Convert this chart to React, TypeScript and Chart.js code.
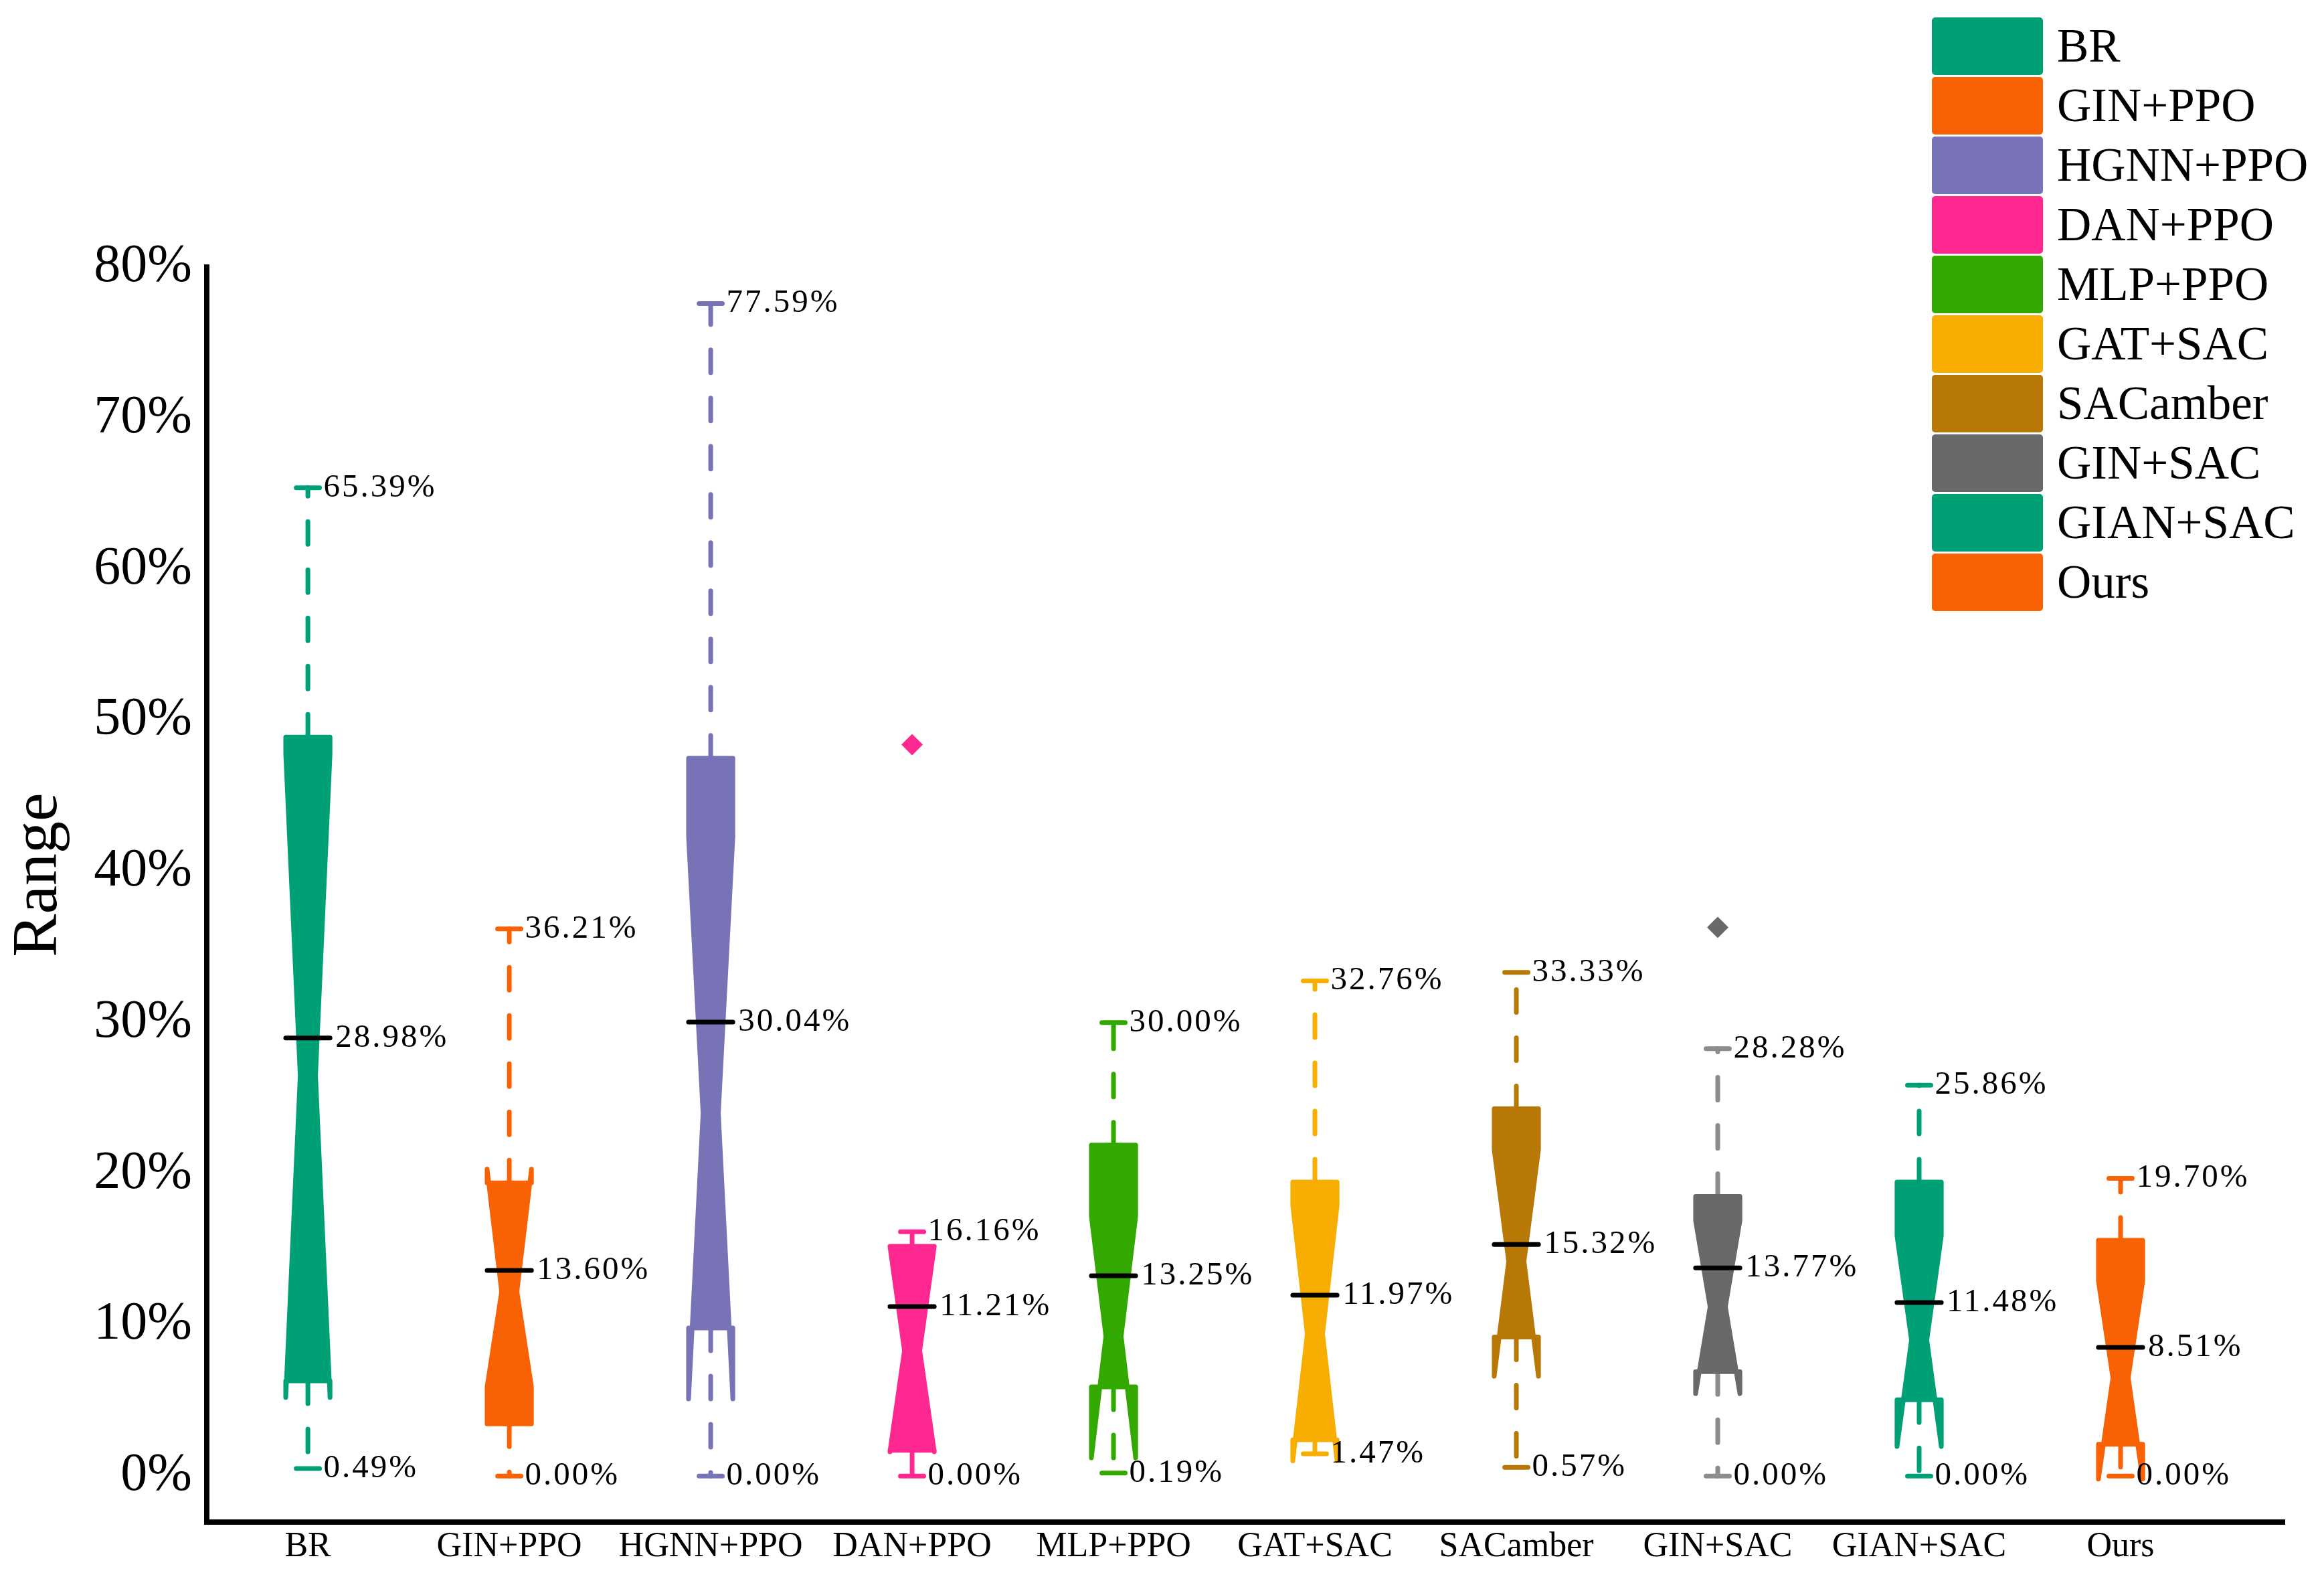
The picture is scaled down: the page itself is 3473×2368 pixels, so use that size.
import { useEffect, useRef } from "react";
import { Chart, registerables } from "chart.js";

Chart.register(...registerables);

const W = 3473;
const H = 2368;
const FONT = "'Liberation Serif', 'Times New Roman', serif";

// data
const CATEGORIES = ["BR", "GIN+PPO", "HGNN+PPO", "DAN+PPO", "MLP+PPO", "GAT+SAC", "SACamber", "GIN+SAC", "GIAN+SAC", "Ours"];
const WHISKER_MAX = [65.39, 36.21, 77.59, 16.16, 30.0, 32.76, 33.33, 28.28, 25.86, 19.7];
const WHISKER_MIN = [0.49, 0.0, 0.0, 0.0, 0.19, 1.47, 0.57, 0.0, 0.0, 0.0];
const MEDIANS = [28.98, 13.6, 30.04, 11.21, 13.25, 11.97, 15.32, 13.77, 11.48, 8.51];
const Q3 = [48.9, 19.4, 47.5, 15.2, 21.9, 19.45, 24.3, 18.5, 19.45, 15.6];
const Q1 = [6.3, 3.45, 9.8, 1.7, 5.9, 2.4, 9.2, 6.9, 5.05, 2.1];
const NOTCH_HIGH = [47.8, 20.3, 42.3, 15.2, 17.2, 17.9, 21.6, 16.9, 15.9, 12.9];
const NOTCH_CENTER = [26.5, 12.2, 24.0, 8.3, 9.25, 9.4, 14.2, 11.2, 9.0, 6.5];
const NOTCH_LOW = [5.2, 5.9, 5.1, 1.6, 1.2, 1.0, 6.6, 5.45, 1.95, -0.2];
const OUTLIER_INDEX = [3, 7];
const OUTLIER_VALUES = [48.4, 36.3];
const Y_TICKS = [0, 10, 20, 30, 40, 50, 60, 70, 80];

const COLORS = ["#00a077", "#f86204", "#7873b6", "#fe2890", "#33a800", "#f8ae00", "#b77806", "#696969", "#00a077", "#f86204"];
const WHISKER_COLORS = ["#00a077", "#f86204", "#7873b6", "#fe2890", "#33a800", "#f8ae00", "#b77806", "#8c8c8c", "#00a077", "#f86204"];

// widths in x-axis units
const BOX_HALF = 0.11;
const NOTCH_HALF = 0.038;
const CAP_HALF = 0.058;

const fmt = (v: number) => v.toFixed(2) + "%";

const notchPlugin = {
  id: "notchBoxes",
  afterDatasetsDraw(chart: any) {
    const { ctx } = chart;
    const xs = chart.scales.x;
    const ys = chart.scales.y;
    const py = (v: number) => ys.getPixelForValue(v);
    ctx.save();
    CATEGORIES.forEach((_, i) => {
      const cx = xs.getPixelForValue(i);
      const L = xs.getPixelForValue(i - BOX_HALF);
      const R = xs.getPixelForValue(i + BOX_HALF);
      const nL = xs.getPixelForValue(i - NOTCH_HALF);
      const nR = xs.getPixelForValue(i + NOTCH_HALF);
      const cL = xs.getPixelForValue(i - CAP_HALF);
      const cR = xs.getPixelForValue(i + CAP_HALF);

      // whiskers
      ctx.strokeStyle = WHISKER_COLORS[i];
      ctx.lineWidth = 7;
      ctx.lineCap = "round";
      ctx.setLineDash([34, 38]);
      ctx.beginPath();
      ctx.moveTo(cx, py(Q3[i]));
      ctx.lineTo(cx, py(WHISKER_MAX[i]));
      ctx.stroke();
      ctx.beginPath();
      ctx.moveTo(cx, py(Q1[i]));
      ctx.lineTo(cx, py(WHISKER_MIN[i]));
      ctx.stroke();
      ctx.setLineDash([]);
      ctx.beginPath();
      ctx.moveTo(cL, py(WHISKER_MAX[i]));
      ctx.lineTo(cR, py(WHISKER_MAX[i]));
      ctx.moveTo(cL, py(WHISKER_MIN[i]));
      ctx.lineTo(cR, py(WHISKER_MIN[i]));
      ctx.stroke();

      // notched box
      ctx.fillStyle = COLORS[i];
      ctx.strokeStyle = COLORS[i];
      ctx.lineWidth = 7;
      ctx.lineJoin = "round";
      ctx.beginPath();
      ctx.moveTo(L, py(Q3[i]));
      ctx.lineTo(R, py(Q3[i]));
      ctx.lineTo(R, py(NOTCH_HIGH[i]));
      ctx.lineTo(nR, py(NOTCH_CENTER[i]));
      ctx.lineTo(R, py(NOTCH_LOW[i]));
      ctx.lineTo(R, py(Q1[i]));
      ctx.lineTo(L, py(Q1[i]));
      ctx.lineTo(L, py(NOTCH_LOW[i]));
      ctx.lineTo(nL, py(NOTCH_CENTER[i]));
      ctx.lineTo(L, py(NOTCH_HIGH[i]));
      ctx.closePath();
      ctx.fill();
      ctx.stroke();

      // median
      ctx.strokeStyle = "#000";
      ctx.lineWidth = 7;
      ctx.beginPath();
      ctx.moveTo(L, py(MEDIANS[i]));
      ctx.lineTo(R, py(MEDIANS[i]));
      ctx.stroke();

      // value labels
      ctx.fillStyle = "#000";
      ctx.font = `49px ${FONT}`;
      ctx.letterSpacing = "3px";
      ctx.textAlign = "left";
      ctx.textBaseline = "middle";
      ctx.fillText(fmt(WHISKER_MAX[i]), cR + 6, py(WHISKER_MAX[i]));
      ctx.fillText(fmt(WHISKER_MIN[i]), cR + 6, py(WHISKER_MIN[i]));
      ctx.fillText(fmt(MEDIANS[i]), R + 8, py(MEDIANS[i]));
      ctx.letterSpacing = "0px";
    });
    ctx.restore();
  },
  afterDraw(chart: any) {
    const { ctx } = chart;
    ctx.save();
    // y-axis title
    ctx.translate(84, 1307);
    ctx.rotate(-Math.PI / 2);
    ctx.fillStyle = "#000";
    ctx.font = `96px ${FONT}`;
    ctx.textAlign = "center";
    ctx.textBaseline = "alphabetic";
    ctx.fillText("Range", 0, 0);
    ctx.restore();

    // legend
    ctx.save();
    ctx.font = `71px ${FONT}`;
    ctx.textAlign = "left";
    ctx.textBaseline = "alphabetic";
    CATEGORIES.forEach((name, i) => {
      const top = 26 + i * 89;
      ctx.fillStyle = COLORS[i];
      ctx.beginPath();
      ctx.roundRect(2887, top, 166, 86, 5);
      ctx.fill();
      ctx.fillStyle = "#000";
      ctx.fillText(name, 3074, top + 66);
    });
    ctx.restore();
  },
};

export default function App() {
  const chartRef = useRef<HTMLCanvasElement>(null);

  useEffect(() => {
    if (!chartRef.current) return;
    document.body.style.margin = "0";

    const chart = new Chart(chartRef.current, {
      type: "scatter",
      data: {
        datasets: [
          {
            data: OUTLIER_INDEX.map((x, k) => ({ x, y: OUTLIER_VALUES[k] })),
            pointStyle: "rectRot",
            pointRadius: 16,
            pointBorderWidth: 0,
            pointBackgroundColor: OUTLIER_INDEX.map((i) => COLORS[i]),
          },
        ],
      },
      options: {
        animation: false,
        responsive: false,
        devicePixelRatio: 1,
        layout: { padding: { top: 399, right: 59, left: 0, bottom: 0 } },
        plugins: {
          legend: { display: false },
          tooltip: { enabled: false },
        },
        scales: {
          x: {
            type: "linear",
            min: -0.502,
            max: 9.814,
            grid: { display: false, drawTicks: false },
            border: { display: true, color: "#000", width: 8 },
            afterBuildTicks: (s: any) => {
              s.ticks = CATEGORIES.map((_, i) => ({ value: i }));
            },
            afterFit: (s: any) => {
              s.height = 94;
            },
            ticks: {
              autoSkip: false,
              maxRotation: 0,
              padding: 6,
              color: "#000",
              font: { family: FONT, size: 52 },
              callback: (v: any) => CATEGORIES[v as number],
            },
          },
          y: {
            type: "linear",
            min: -3.05,
            max: 80,
            grid: { display: false, drawTicks: false },
            border: { display: true, color: "#000", width: 8 },
            afterBuildTicks: (s: any) => {
              s.ticks = Y_TICKS.map((v) => ({ value: v }));
            },
            afterFit: (s: any) => {
              s.width = 309;
            },
            ticks: {
              padding: 22,
              color: "#000",
              font: { family: FONT, size: 80 },
              callback: (v: any) => v + "%",
            },
          },
        },
      },
      plugins: [notchPlugin],
    });

    return () => {
      chart.destroy();
    };
  }, []);

  return (
    <div style={{ width: W, height: H }}>
      <canvas ref={chartRef} width={W} height={H}></canvas>
    </div>
  );
}
